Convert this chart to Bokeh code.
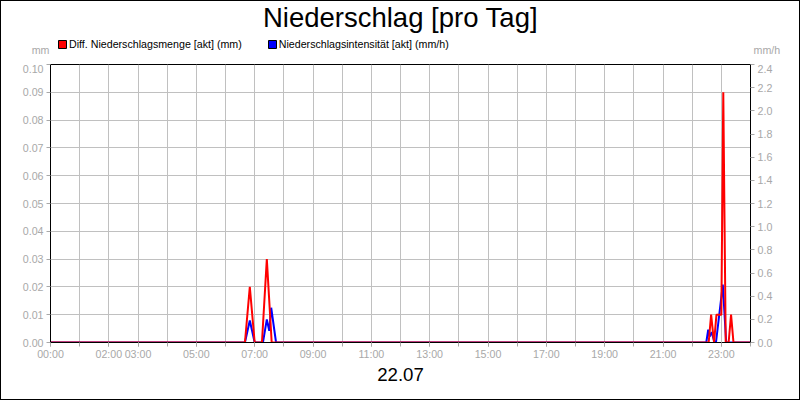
from bokeh.plotting import figure
from bokeh.layouts import column
from bokeh.models import (Range1d, LinearAxis, FixedTicker, PrintfTickFormatter,
                          Label, Legend, LegendItem, ColumnDataSource)
from bokeh.embed import file_html
from bokeh.resources import INLINE

# ---- data -------------------------------------------------------------
red_times = ["00:00", "06:40", "06:50", "07:00", "07:15", "07:25", "07:35",
             "22:34", "22:39", "22:45", "22:50", "23:00", "23:04", "23:09",
             "23:15", "23:20", "23:25", "24:00"]
red_values = [0, 0, 0.02, 0, 0, 0.03, 0,
              0, 0.01, 0, 0.01, 0.01, 0.09, 0,
              0, 0.01, 0, 0]

blue_times = ["00:00", "06:40", "06:50", "07:00", "07:17", "07:25", "07:30",
              "07:34", "07:44", "22:29", "22:33", "22:36", "22:40", "22:46",
              "22:49", "23:03", "23:10", "24:00"]
blue_values = [0, 0, 0.19, 0, 0, 0.2, 0.1,
               0.3, 0, 0, 0.11, 0.05, 0.09, 0,
               0, 0.5, 0, 0]

x_label_hours = [0, 2, 3, 5, 7, 9, 11, 13, 15, 17, 19, 21, 23]
left_ticks = [0.00, 0.01, 0.02, 0.03, 0.04, 0.05, 0.06, 0.07, 0.08, 0.09, 0.10]
right_ticks = [0.0, 0.2, 0.4, 0.6, 0.8, 1.0, 1.2, 1.4, 1.6, 1.8, 2.0, 2.2, 2.4]

title_text = "Niederschlag [pro Tag]"
date_text = "22.07"
red_name = "Diff. Niederschlagsmenge [akt] (mm)"
blue_name = "Niederschlagsintensität [akt] (mm/h)"
left_unit = "mm"
right_unit = "mm/h"


def to_hours(t):
    h, m = t.split(":")
    return int(h) + int(m) / 60.0


FONT = "Liberation Sans"
GRAY = "#a8a8a8"
W = 798
HEAD_H = 63
MAIN_H = 335
NAN = float("nan")

# ---- header (title, legend, unit labels) -------------------------------
head = figure(width=W, height=HEAD_H, output_backend="svg", toolbar_location=None,
              x_range=Range1d(0, W), y_range=Range1d(HEAD_H, 0),
              x_axis_type=None, y_axis_type=None,
              min_border_left=0, min_border_right=0,
              min_border_top=0, min_border_bottom=0)
head.frame_align = False
head.outline_line_color = None
head.background_fill_color = "white"
head.border_fill_color = "white"

head.add_layout(Label(x=399, y=16.3, text=title_text, text_align="center",
                      text_baseline="middle", text_font=FONT, text_font_size="27.5px",
                      text_color="black"))
head.add_layout(Label(x=48, y=48.6, text=left_unit, text_align="right",
                      text_baseline="middle", text_font=FONT, text_font_size="8pt",
                      text_color=GRAY))
head.add_layout(Label(x=752, y=48.6, text=right_unit, text_align="left",
                      text_baseline="middle", text_font=FONT, text_font_size="8pt",
                      text_color=GRAY))

sw_r = head.quad(left=[NAN], right=[NAN], top=[NAN], bottom=[NAN],
                 fill_color="#ff0000", line_color="black")
sw_b = head.quad(left=[NAN], right=[NAN], top=[NAN], bottom=[NAN],
                 fill_color="#0000ff", line_color="black")
leg = Legend(items=[LegendItem(label=red_name, renderers=[sw_r]),
                    LegendItem(label=blue_name, renderers=[sw_b])],
             orientation="horizontal", location=(56, 14),
             padding=0, margin=0, spacing=25,
             glyph_width=10, glyph_height=10, label_height=10, label_standoff=2,
             label_text_font=FONT, label_text_font_size="8pt",
             label_text_color="black", label_text_baseline="middle",
             background_fill_alpha=0, border_line_color=None)
head.add_layout(leg)

# ---- main chart --------------------------------------------------------
p = figure(width=W, height=MAIN_H, output_backend="svg", toolbar_location=None,
           x_range=Range1d(0, 24), y_range=Range1d(0, 0.1),
           min_border_left=49, min_border_right=49,
           min_border_top=0, min_border_bottom=57)
p.frame_align = False
p.extra_y_ranges = {"r": Range1d(0, 2.4)}

p.outline_line_color = "black"
p.outline_line_width = 1
p.background_fill_color = "white"
p.border_fill_color = "white"

p.xgrid.ticker = FixedTicker(ticks=list(range(25)))
p.xgrid.grid_line_color = "#c0c0c0"
p.ygrid.ticker = FixedTicker(ticks=left_ticks)
p.ygrid.grid_line_color = "#c0c0c0"

xa = p.xaxis[0]
xa.ticker = FixedTicker(ticks=x_label_hours, minor_ticks=list(range(25)))
xa.major_label_overrides = {h: "%02d:00" % h for h in x_label_hours}
xa.axis_line_color = "black"
xa.major_tick_line_color = GRAY
xa.minor_tick_line_color = GRAY
xa.major_tick_in = 0
xa.major_tick_out = 4
xa.minor_tick_in = 0
xa.minor_tick_out = 4
xa.major_label_text_color = GRAY
xa.major_label_text_font = FONT
xa.major_label_text_font_size = "8pt"
xa.major_label_standoff = 1
xa.axis_label = date_text
xa.axis_label_text_font = FONT
xa.axis_label_text_font_size = "14pt"
xa.axis_label_text_font_style = "normal"
xa.axis_label_text_color = "black"
xa.axis_label_standoff = 5

ya = p.yaxis[0]
ya.ticker = FixedTicker(ticks=left_ticks)
ya.formatter = PrintfTickFormatter(format="%.2f")

ra = LinearAxis(y_range_name="r", ticker=FixedTicker(ticks=right_ticks),
                formatter=PrintfTickFormatter(format="%.1f"))
p.add_layout(ra, "right")

for ax in [ya, ra]:
    ax.axis_line_color = "black"
    ax.major_tick_line_color = GRAY
    ax.minor_tick_line_color = None
    ax.major_tick_in = 0
    ax.major_tick_out = 4
    ax.major_label_text_color = GRAY
    ax.major_label_text_font = FONT
    ax.major_label_text_font_size = "8pt"
    ax.major_label_standoff = 3

bsrc = ColumnDataSource(dict(x=[to_hours(t) for t in blue_times], y=blue_values))
rsrc = ColumnDataSource(dict(x=[to_hours(t) for t in red_times], y=red_values))
p.line("x", "y", source=bsrc, y_range_name="r", line_color="#0000ff", line_width=2)
p.line("x", "y", source=rsrc, line_color="#ff0000", line_width=2)

layout = column(head, p, spacing=0, styles={"border": "1px solid black"})

open("out.html", "w").write(file_html(layout, INLINE))
